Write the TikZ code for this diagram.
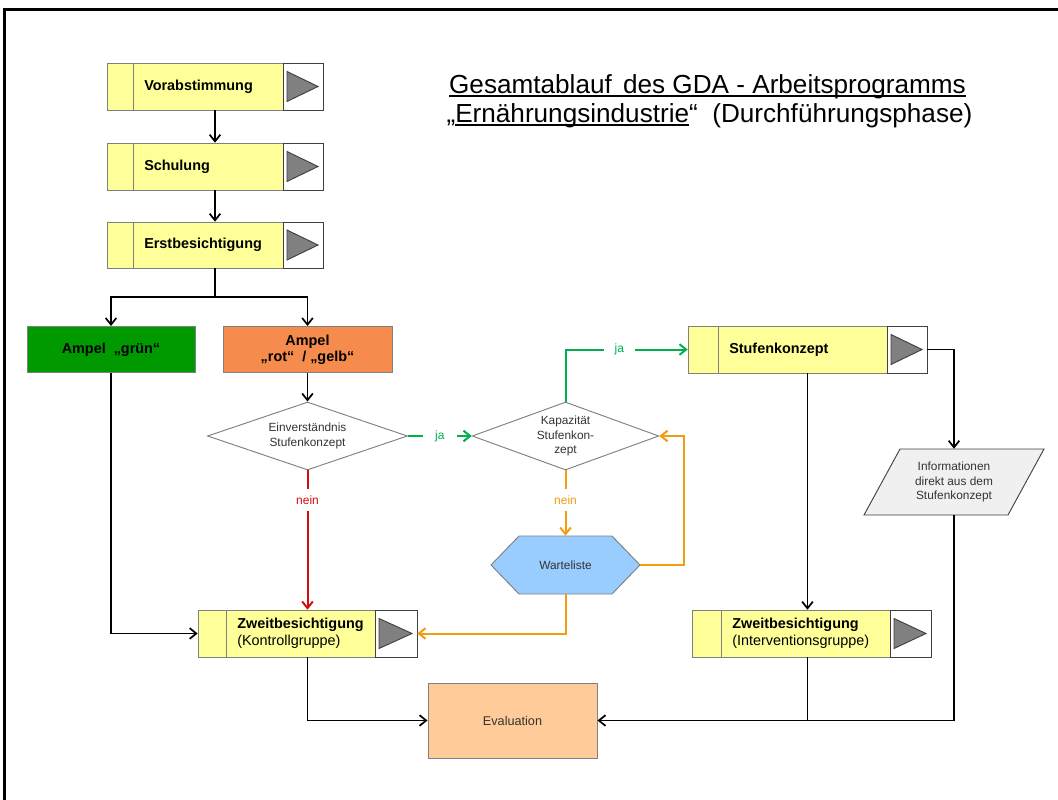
\documentclass[tikz,border=0pt]{standalone}
\usepackage{fontspec}
\setmainfont{Liberation Sans}
\usetikzlibrary{arrows.meta,shapes.geometric,fit,calc}
\definecolor{byellow}{HTML}{FFFF99}
\definecolor{agreen}{HTML}{009900}
\definecolor{aorange}{HTML}{F58B4C}
\definecolor{gline}{HTML}{00B050}
\definecolor{rline}{HTML}{D01010}
\definecolor{oline}{RGB}{243,156,18}
\definecolor{hexblue}{HTML}{99CCFF}
\definecolor{evalor}{HTML}{FFCC99}
\definecolor{infogray}{HTML}{F0F0F0}
\definecolor{bgray}{HTML}{808080}
\definecolor{dgray}{HTML}{404040}
\definecolor{tgray}{HTML}{333333}
\newcommand\myul[1]{\setbox0\hbox{#1}\rlap{\rule[-2.9pt]{\wd0}{1.1pt}}\box0}
\newcommand\procbox[8]{%
  \draw[boxline, fill=byellow] (#2,#3) rectangle (#7,#5);
  \draw[boxline] (#6,#3) -- (#6,#5);
  \draw[boxline2, fill=white] (#7,#3) rectangle (#4,#5);
  \draw[boxline2, fill=bgray] ({#7+4},{(#3+#5)/2-15}) -- ({#7+4},{(#3+#5)/2+15}) -- ({#4-5},{(#3+#5)/2}) -- cycle;
  \node[fit={(#2,#3) (#4,#5)}, inner sep=0pt] (#1) {};
  \node[boxtext, anchor=west] (#1t) at ({#6+11},{(#3+#5)/2}) {#8};
}
\begin{document}
\begin{tikzpicture}[x=0.75pt,y=-0.75pt,
  boxline/.style={draw=bgray, line width=0.7pt},
  boxline2/.style={draw=dgray, line width=0.7pt},
  boxtext/.style={font=\fontsize{10.8}{13}\selectfont, align=left, inner sep=0pt},
  smalltext/.style={font=\fontsize{8.9}{10.8}\selectfont, text=tgray, align=center, inner sep=0pt},
  conn/.style={line width=1.3pt},
  arr/.style={conn, -{Straight Barb[length=5pt,width=8pt]}},
  carr/.style={arr, line width=1.5pt},
  lbl/.style={font=\fontsize{9}{11}\selectfont, fill=white},
  titlefont/.style={font=\fontsize{19.6}{24}\selectfont, inner sep=0pt}
]
\useasboundingbox (0,0) rectangle (1058,800);
% frame
\draw[line width=2.3pt] (4.5,805) -- (4.5,9.5) -- (1065,9.5);

% title
\node[titlefont, anchor=base] (title1) at (707.5,93) {\myul{Gesamtablauf\ \hspace{3pt}des GDA - Arbeitsprogramms}};
\node[titlefont, anchor=base] (title2) at (709.5,122) {„\myul{Ernährungsindustrie}“\ \ (Durchführungsphase)};

% process boxes
\procbox{vor}{107}{63}{323}{110}{133}{283}{\textbf{Vorabstimmung}}
\procbox{sch}{107}{143}{323}{190}{133}{283}{\textbf{Schulung}}
\procbox{erst}{107}{222}{323}{268}{133}{283}{\textbf{Erstbesichtigung}}
\procbox{stufe}{688}{326}{927}{373}{718}{887}{\textbf{Stufenkonzept}}
\procbox{zk}{198}{610}{417}{657}{226}{375}{\textbf{Zweitbesichtigung}\\(Kontrollgruppe)}
\procbox{zi}{692}{610}{931}{657}{721}{890}{\textbf{Zweitbesichtigung}\\(Interventionsgruppe)}

% ampel boxes
\node[draw=bgray, line width=0.7pt, fill=agreen, minimum width=126pt, minimum height=34.5pt, inner sep=0pt,
  font=\bfseries\fontsize{10.8}{12}\selectfont] (gruen) at (111,349.5) {Ampel\ \ „grün“};
\node[draw=bgray, line width=0.7pt, fill=aorange, minimum width=126.75pt, minimum height=34.5pt, inner sep=0pt, align=center,
  font=\bfseries\fontsize{10.8}{12}\selectfont] (rot) at (307.5,349.5) {Ampel\\„rot“\ \ /\ „gelb“};

% diamonds
\node[diamond, aspect=2.94, draw=bgray, fill=white, line width=0.7pt, minimum width=150pt, minimum height=51pt, smalltext] (ein) at (307.5,436) {Einverständnis\\Stufenkonzept};
\node[diamond, aspect=2.75, draw=bgray, fill=white, line width=0.7pt, minimum width=140pt, minimum height=51pt, smalltext] (kap) at (565.5,436) {Kapazität\\Stufenkon-\\zept};

% Warteliste hexagon
\draw[draw=bgray, line width=0.7pt, fill=hexblue] (491,565) -- (519,536) -- (612,536) -- (640,565) -- (612,594) -- (519,594) -- cycle;
\node[fit={(491,536) (640,594)}, inner sep=0pt] (wart) {};
\node[smalltext] (wartt) at (wart.center) {Warteliste};

% Informationen parallelogram
\draw[draw=dgray, line width=0.7pt, fill=infogray] (900,449) -- (1044,449) -- (1008,515) -- (864,515) -- cycle;
\node[fit={(864,449) (1044,515)}, inner sep=0pt] (info) {};
\node[smalltext] (infot) at (info.center) {Informationen\\direkt aus dem\\Stufenkonzept};

% Evaluation
\node[draw=bgray, line width=0.7pt, fill=evalor, minimum width=126.75pt, minimum height=56.25pt, inner sep=0pt,
  font=\fontsize{9.5}{11}\selectfont, text=tgray] (eval) at (512.5,720.5) {Evaluation};

% connectors
\draw[arr] (vor.south) -- (sch.north);
\draw[arr] (sch.south) -- (erst.north);
\draw[conn] (erst.south) -- ++(0,29) coordinate (split);
\draw[arr] (split) -| (gruen.north);
\draw[arr] (split) -| (rot.north);
\draw[arr] (rot.south) -- (ein.north);
\draw[carr, gline] (ein.east) -- (kap.west) node[midway, lbl, text=gline, inner xsep=9pt, inner ysep=1pt] (ja1) {ja};
\draw[carr, gline] (kap.north) |- (stufe.west) node[pos=0.72, lbl, text=gline, inner xsep=8pt, inner ysep=1pt] (ja2) {ja};
\draw[carr, rline] (ein.south) -- (zk.north) node[pos=0.21, lbl, text=rline, inner xsep=1pt, inner ysep=5pt] (nein1) {nein};
\draw[carr, oline] (kap.south) -- (wart.north) node[pos=0.45, lbl, text=oline, inner xsep=1pt, inner ysep=5pt] (nein2) {nein};
\draw[carr, oline] (wart.east) -- ++(44,0) |- (kap.east);
\draw[carr, oline] (wart.south) |- (zk.east);
\draw[arr] (gruen.south) |- (zk.west);
\draw[arr] (stufe.south) -- (stufe.south |- zi.north);
\draw[arr] (stufe.east) -| (info.north);
\draw[arr] (info.south) |- (eval.east);
\draw[conn] (stufe.south |- zi.south) -- (stufe.south |- eval.east);
\draw[arr] (zk.south) |- (eval.west);
\end{tikzpicture}
\end{document}
